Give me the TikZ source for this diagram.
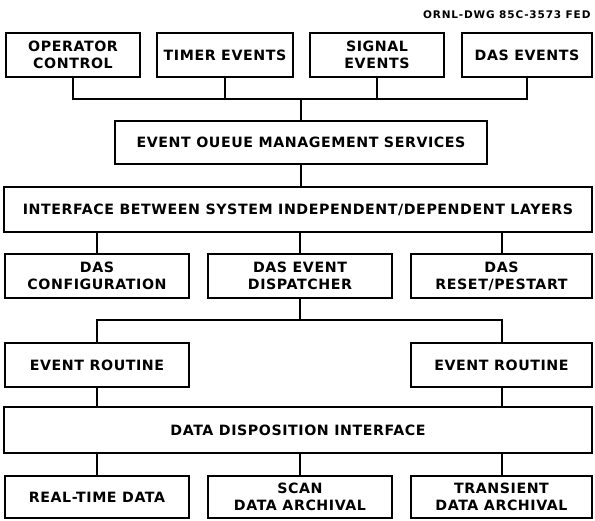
\documentclass[tikz,border=0pt]{standalone}
\usepackage{fontspec}
\setmainfont{DejaVu Sans}
\newfontfamily\blkface{DejaVu Sans}[LetterSpace=4]
\newfontfamily\tagface{DejaVu Sans}[LetterSpace=8]
\usepackage{tikz}
\usetikzlibrary{calc}
\usetikzlibrary{positioning}
\newcommand{\blkfont}{\blkface\bfseries\fontsize{14.2}{16.8}\selectfont}

\begin{document}
\begin{tikzpicture}[x=1pt, y=1pt]

                \useasboundingbox (0, 0) rectangle (595, -520);

                % box style, sizes are given per node
                \tikzset{blk/.style={draw, line width=1.3pt, align=center,
                        inner sep=0pt, font=\blkfont, minimum height=44pt}}

                \node (tag) [anchor=east,
                    font=\tagface\bfseries\fontsize{10.5}{12}\selectfont]
                at (594, -15) {ORNL-DWG 85C-3573 FED};

                % top row of event sources
                \begin{scope}[shift={(0, 0)}]
                    \node (op) [blk, minimum width=134pt] at (73, -55)
                    {OPERATOR\\CONTROL};
                    \node (tim) [blk, minimum width=136pt] at (225, -55)
                    {TIMER EVENTS};
                    \node (sig) [blk, minimum width=134pt] at (377, -55)
                    {SIGNAL\\EVENTS};
                    \node (dev) [blk, minimum width=130pt] at (527, -55)
                    {DAS EVENTS};
                \end{scope}

                \node (eq) [blk, minimum width=372pt, minimum height=43pt]
                at (301, -142.5) {EVENT OUEUE MANAGEMENT SERVICES};
                \node (itf) [blk, minimum width=588pt, minimum height=45pt]
                at (298, -209.5)
                {INTERFACE BETWEEN SYSTEM INDEPENDENT/DEPENDENT LAYERS};

                % DAS layer
                \node (cfg) [blk, minimum width=184pt] at (97, -276)
                {DAS\\CONFIGURATION};
                \node (dsp) [blk, minimum width=184pt] at (300, -276)
                {DAS EVENT\\DISPATCHER};
                \node (rst) [blk, minimum width=181pt] at (501.5, -276)
                {DAS\\RESET/PESTART};

                \node (erl) [blk, minimum width=184pt] at (97, -365)
                {EVENT ROUTINE};
                \node (err) [blk, minimum width=181pt] at (501.5, -365)
                {EVENT ROUTINE};

                \node (ddi) [blk, minimum width=588pt, minimum height=46pt]
                at (298, -430) {DATA DISPOSITION INTERFACE};

                % data sinks
                \node (rtd) [blk, minimum width=184pt, minimum height=42pt]
                at (97, -497) {REAL-TIME DATA};
                \node (scn) [blk, minimum width=184pt, minimum height=42pt]
                at (300, -497) {SCAN\\DATA ARCHIVAL};
                \node (trn) [blk, minimum width=181pt, minimum height=42pt]
                at (501.5, -497) {TRANSIENT\\DATA ARCHIVAL};

                % bus taps
                \coordinate (t1) at (73, -99);
                \coordinate (t2) at (225, -99);
                \coordinate (t3) at (377, -99);
                \coordinate (t4) at (527, -99);
                \coordinate (tm) at (301, -99);
                \coordinate (u1) at (97, -320);
                \coordinate (u2) at (300, -320);
                \coordinate (u3) at (502, -320);

                \begin{scope}[line width=1.3pt]
                    \draw (t1 |- op.south) -- (t1) -- (t4) -- (t4 |- dev.south);
                    \draw (t2) -- (t2 |- tim.south);
                    \draw (t3) -- (t3 |- sig.south);
                    \draw (tm) -- (tm |- eq.north);
                    \draw (tm |- eq.south) -- (tm |- itf.north);
                    \draw (u1 |- itf.south) -- (u1 |- cfg.north);
                    \draw (u2 |- itf.south) -- (u2 |- dsp.north);
                    \draw (u3 |- itf.south) -- (u3 |- rst.north);
                    \draw (u2 |- dsp.south) -- (u2);
                    \draw (u1 |- erl.north) -- (u1) -- (u3) -- (u3 |- err.north);
                    \draw (u1 |- erl.south) -- (u1 |- ddi.north);
                    \draw (u3 |- err.south) -- (u3 |- ddi.north);
                    \draw (u1 |- ddi.south) -- (u1 |- rtd.north);
                    \draw (u2 |- ddi.south) -- (u2 |- scn.north);
                    \draw (u3 |- ddi.south) -- (u3 |- trn.north);
                \end{scope}

\end{tikzpicture}
\end{document}
